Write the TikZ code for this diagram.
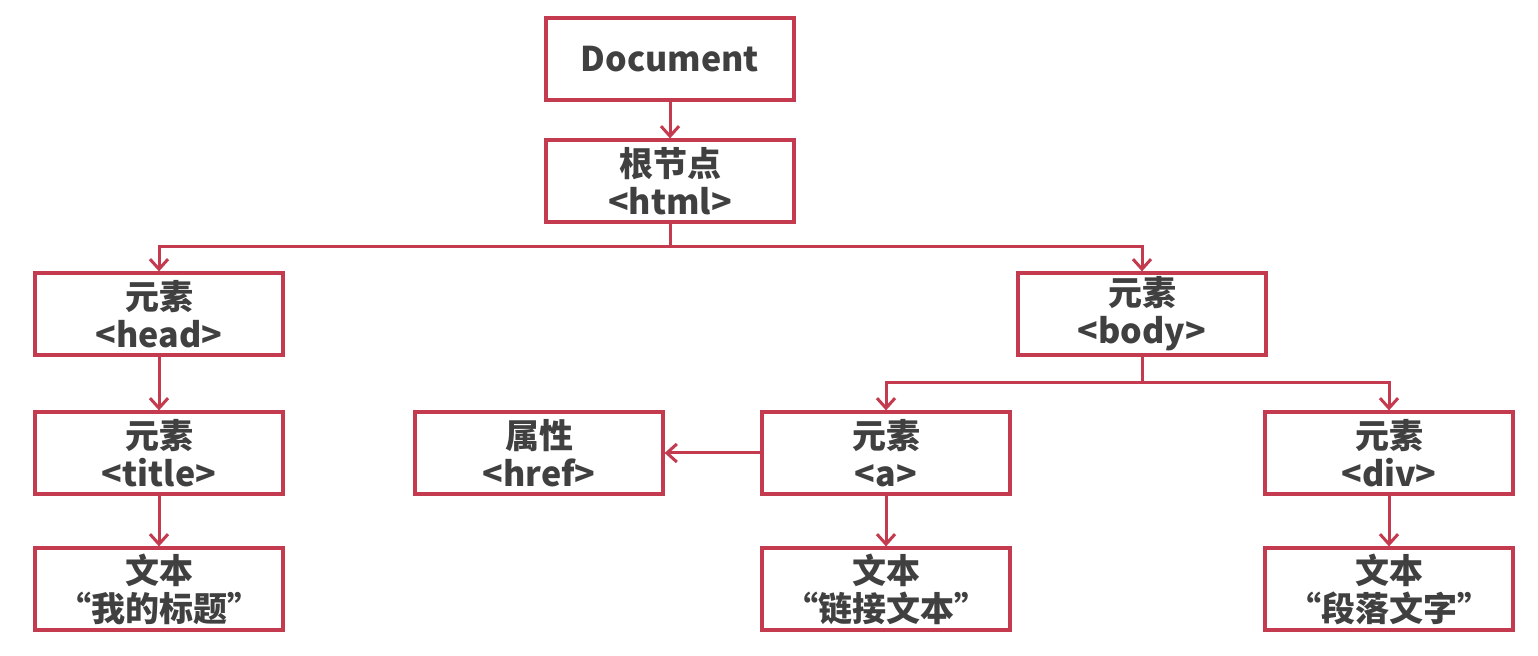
\documentclass[tikz,border=0pt]{standalone}
\usepackage{fontspec}
\setmainfont{Noto Sans CJK SC}
\usetikzlibrary{arrows.meta}
\definecolor{edgecol}{RGB}{196,58,78}
\definecolor{txtcol}{RGB}{64,64,64}
\begin{document}
\begin{tikzpicture}[x=0.5pt,y=-0.5pt,
  box/.style={draw=edgecol, line width=1.6pt, fill=white, minimum width=124pt, minimum height=41pt,
    inner sep=0pt, align=center, text=txtcol, font=\bfseries\fontsize{17}{19}\selectfont},
  link/.style={draw=edgecol, line width=1.5pt},
  conn/.style={link, -{Straight Barb[length=5pt,width=9pt,line width=1.5pt]}}]
\useasboundingbox (0,0) rectangle (1538,656);
\fill[white] (0,0) rectangle (1538,656);

\node[box] (doc) at (670,59) {Document};
\node[box] (html) at (670,181) {根节点\\<html>};
\node[box] (head) at (159,314) {元素\\<head>};
\node[box] (body) at (1142,314) {元素\\<body>};
\node[box] (title) at (159,453) {元素\\<title>};
\node[box] (href) at (539,453) {属性\\<href>};
\node[box] (a) at (886,453) {元素\\<a>};
\node[box] (div) at (1389,453) {元素\\<div>};
\node[box] (ttext) at (159,589) {文本\\“我的标题”};
\node[box] (atext) at (886,589) {文本\\“链接文本”};
\node[box] (dtext) at (1389,589) {文本\\“段落文字”};

\coordinate (j1) at (670,247);
\coordinate (j2) at (1142,383);

\draw[conn] (doc) -- (html);
\draw[link] (html) -- (j1);
\draw[conn] (j1) -| (head);
\draw[conn] (j1) -| (body);
\draw[conn] (head) -- (title);
\draw[conn] (title) -- (ttext);
\draw[link] (body) -- (j2);
\draw[conn] (j2) -| (a);
\draw[conn] (j2) -| (div);
\draw[conn] (a) -- (href);
\draw[conn] (a) -- (atext);
\draw[conn] (div) -- (dtext);
\end{tikzpicture}
\end{document}
